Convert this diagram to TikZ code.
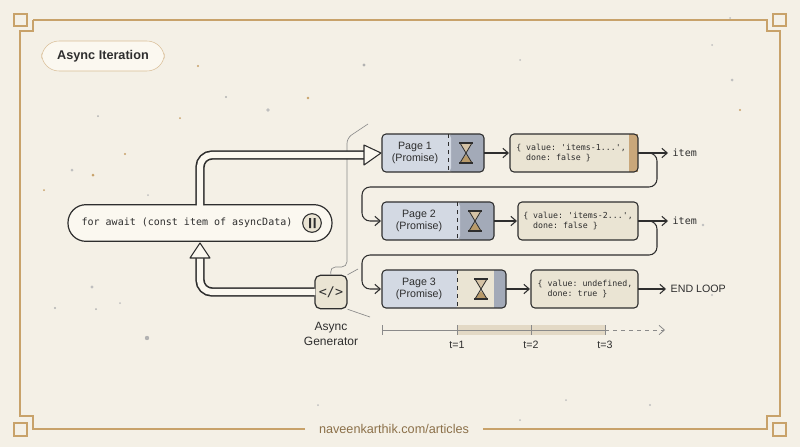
\documentclass[tikz,border=0pt]{standalone}
\usepackage{fontspec}
\setmainfont{Liberation Sans}
\setsansfont{Liberation Sans}
\setmonofont{DejaVu Sans Mono}
\usetikzlibrary{arrows.meta,calc}
\definecolor{bg}{HTML}{F4F0E6}
\definecolor{frame}{HTML}{C8A26A}
\definecolor{ink}{HTML}{2E2E2E}
\definecolor{pagef}{HTML}{D3D9E3}
\definecolor{paged}{HTML}{A3AAB8}
\definecolor{resf}{HTML}{EAE4D3}
\definecolor{strip}{HTML}{C9A77A}
\definecolor{pill}{HTML}{FBF8F0}
\definecolor{sand}{HTML}{B89A6A}
\definecolor{gline}{HTML}{8A8A8A}
\tikzset{
 px/.style={x=0.75pt,y=-0.75pt},
 box/.style={draw=ink,line width=0.8pt,rounded corners=3pt},
 code/.style={font=\ttfamily\fontsize{6.2}{7.8}\selectfont,text=ink,align=left},
 lbl/.style={font=\sffamily\fontsize{8}{9}\selectfont,text=ink,align=center},
 conn/.style={draw=ink,line width=0.8pt,-{Straight Barb[length=4pt,width=7pt]},rounded corners=6pt},
 fat/.style={draw=ink,line width=7pt},
 fatin/.style={draw=pill,line width=4.6pt},
 head/.style={draw=ink,fill=pill,line width=0.8pt,line join=round},
}
\newcommand{\hglass}[2]{% x y
 \fill[sand!60] (#1-6,#2-9) -- (#1+6,#2-9) -- (#1,#2) -- cycle;
 \fill[sand] (#1,#2+2) -- (#1+6,#2+9) -- (#1-6,#2+9) -- cycle;
 \draw[ink,line width=0.8pt] (#1-7,#2-10) -- (#1+7,#2-10) (#1-7,#2+10) -- (#1+7,#2+10);
 \draw[ink,line width=0.6pt] (#1-6,#2-10) -- (#1,#2) -- (#1+6,#2+10) (#1+6,#2-10) -- (#1,#2) -- (#1-6,#2+10);}
\begin{document}
\begin{tikzpicture}[px]
\useasboundingbox (0,0) rectangle (800,447);
\fill[bg] (0,0) rectangle (800,447);
% frame
\draw[frame,line width=1pt] (33,20) -- (767,20) -- (767,31) -- (780,31) -- (780,416) -- (767,416) -- (767,429) -- (483,429);
\draw[frame,line width=1pt] (305,429) -- (33,429) -- (33,416) -- (20,416) -- (20,31) -- (33,31) -- (33,20);
\draw[frame,line width=1pt] (14,14) rectangle (27,26) (773,14) rectangle (786,26) (773,423) rectangle (786,436) (14,423) rectangle (27,436);
\node[font=\sffamily\fontsize{9.5}{11}\selectfont,text=frame!70!black] (foot) at (394,429) {naveenkarthik.com/articles};
% dots
\foreach \x/\y/\c/\r in {198/66/frame/1.2,364/65/gray!60/1.6,226/97/gray!60/1.1,308/98/frame/1.3,268/110/gray!50/1.8,98/116/gray!60/1,180/118/frame/1,125/154/frame/1.2,72/170/gray!50/1.5,93/175/frame/1.5,44/190/frame/1,148/195/gray!50/1,120/303/gray!50/1,92/287/gray!50/1.6,55/308/gray!60/1.2,96/309/gray!60/1,147/338/gray!60/2.2,730/18/gray!50/1,712/45/gray!50/1,740/110/frame/1.2,703/225/gray!50/1.4,712/295/gray!50/1.2,520/420/gray!50/1,566/400/gray!50/1,650/405/gray!50/1.2,318/405/gray!50/1,732/80/gray!50/1.5,520/60/gray!50/1}
  \fill[\c] (\x,\y) circle[radius=\r];
% title
\node[draw=frame!70,fill=pill,rounded corners=13pt,minimum width=92pt,minimum height=22.5pt,font=\sffamily\bfseries\fontsize{9.5}{11}\selectfont,text=ink] (title) at (103,56) {Async Iteration};
% loop pill
\node[draw=ink,line width=0.9pt,fill=pill,rounded corners=13.5pt,minimum width=198pt,minimum height=27.5pt] (loop) at (200,223) {};
\node[code,font=\ttfamily\fontsize{7.5}{9}\selectfont] (loopt) at (187,223) {for await (const item of asyncData)};
\node[draw=ink,line width=0.8pt,fill=resf,circle,minimum size=14pt,inner sep=0pt] (pause) at (312,223) {};
\fill[ink] (309,218) rectangle (311,228) (313.5,218) rectangle (315.5,228);
% pages
\foreach \n/\xa/\xs/\xe/\y/\dk in {1/382/448/484/153/1,2/382/457/494/221/1,3/382/457/506/289/0}{
  \ifnum\dk=1
   \fill[paged,rounded corners=3pt] (\xs,\y-19) rectangle (\xe,\y+19);
   \fill[pagef,rounded corners=3pt] (\xa,\y-19) rectangle (\xs+3,\y+19);
   \fill[pagef] (\xs-3,\y-19) rectangle (\xs,\y+19);
  \else
   \fill[pagef,rounded corners=3pt] (\xa,\y-19) rectangle (\xs+3,\y+19);
   \fill[pagef] (\xs-3,\y-19) rectangle (\xs,\y+19);
   \fill[resf] (\xs,\y-19) rectangle (\xe-9,\y+19);
   \fill[paged,rounded corners=3pt] (\xe-12,\y-19) rectangle (\xe,\y+19);
   \fill[paged] (\xe-12,\y-19) rectangle (\xe-9,\y+19);
  \fi
  \draw[ink,line width=0.6pt,dashed] (\xs,\y-19) -- (\xs,\y+19);
  \draw[box] (\xa,\y-19) rectangle (\xe,\y+19);
}
\node[lbl] (p1) at (415,153) {Page 1\\(Promise)};
\node[lbl] (p2) at (419,221) {Page 2\\(Promise)};
\node[lbl] (p3) at (419,289) {Page 3\\(Promise)};
\coordinate (p1e) at (484,153); \coordinate (p2e) at (494,221); \coordinate (p3e) at (506,289);
\hglass{466}{153}
\hglass{475}{221}
\hglass{481}{289}
% results
\fill[resf,rounded corners=3pt] (510,134) rectangle (638,172);
\fill[strip] (629,134.4) rectangle (637.6,171.6);
\draw[box] (510,134) rectangle (638,172);
\node[code] (r1) at (571,153) {\{ value: 'items-1...',\\\ \ done: false \}};
\draw[box,fill=resf] (518,202) rectangle (638,240);
\node[code] (r2) at (578,221) {\{ value: 'items-2...',\\\ \ done: false \}};
\draw[box,fill=resf] (531,270) rectangle (638,308);
\node[code] (r3) at (585,289) {\{ value: undefined,\\\ \ done: true \}};
\coordinate (r1w) at (509,153); \coordinate (r2w) at (517,221); \coordinate (r3w) at (530,289);
\coordinate (r1e) at (638,153); \coordinate (r2e) at (638,221); \coordinate (r3e) at (638,289);
\draw[conn] (p1e) -- (r1w);
\draw[conn] (p2e) -- (r2w);
\draw[conn] (p3e) -- (r3w);
\node[font=\ttfamily\fontsize{7.5}{9}\selectfont,text=ink,anchor=west] (i1) at (668,153) {item};
\node[font=\ttfamily\fontsize{7.5}{9}\selectfont,text=ink,anchor=west] (i2) at (668,221) {item};
\node[font=\sffamily\fontsize{8}{9}\selectfont,text=ink,anchor=west] (end) at (666,289) {END LOOP};
\draw[conn] (r1e) -- (i1.west);
\draw[conn] (r2e) -- (i2.west);
\draw[conn] (r3e) -- (end.west);
\coordinate (p2w) at (381,221); \coordinate (p3w) at (381,289);
\draw[conn] ($(r1e)+(5,0)$) -- ++(14,0) |- (362,187) |- (p2w);
\draw[conn] ($(r2e)+(5,0)$) -- ++(14,0) |- (362,255) |- (p3w);
% generator
\node[draw=ink,line width=0.9pt,fill=resf,rounded corners=4pt,minimum width=24pt,minimum height=25pt,font=\ttfamily\fontsize{10}{12}\selectfont,text=ink,inner sep=0pt] (gen) at (331,292) {</>};
\node[lbl,font=\sffamily\fontsize{9}{11}\selectfont] (genl) at (331,334) {Async\\Generator};
% decorative thin lines
\draw[gline,line width=0.5pt,rounded corners=4pt] (gen.north) -- (330,267) -- (347,267) -- (347,138) -- (368,124);
\draw[gline,line width=0.5pt] (gen.north east) -- (358,269);
\draw[gline,line width=0.5pt] (gen.south east) -- (370,317);
% fat arrows
\coordinate (p1w) at (381,153);
\draw[fat,rounded corners=9pt] (200,205) -- (200,155) -- (366,155);
\draw[fatin,rounded corners=9pt] (200,206.5) -- (200,155) -- (367,155);
\draw[head] (364,145) -- (p1w) -- (364,165) -- cycle;
\draw[fat,rounded corners=9pt] (gen.west) -| (200,256);
\draw[fatin,rounded corners=9pt] ($(gen.west)+(1,0)$) -| (200,255);
\draw[head] (190,258) -- (200,243) -- (210,258) -- cycle;
% timeline
\fill[resf!80!sand!90] (457,325) rectangle (605,335);
\draw[gline,line width=0.6pt] (382,330) -- (605,330);
\foreach \x in {382,457,531,605} \draw[gline,line width=0.6pt] (\x,325) -- (\x,335);
\coordinate (tl) at (605,330); \coordinate (tr) at (665,330);
\draw[gline,line width=0.6pt,dashed,-{Straight Barb[length=4pt,width=7pt]}] (tl) -- (tr);
\node[lbl] (t1) at (457,345) {t=1};
\node[lbl] (t2) at (531,345) {t=2};
\node[lbl] (t3) at (605,345) {t=3};
\end{tikzpicture}
\end{document}
